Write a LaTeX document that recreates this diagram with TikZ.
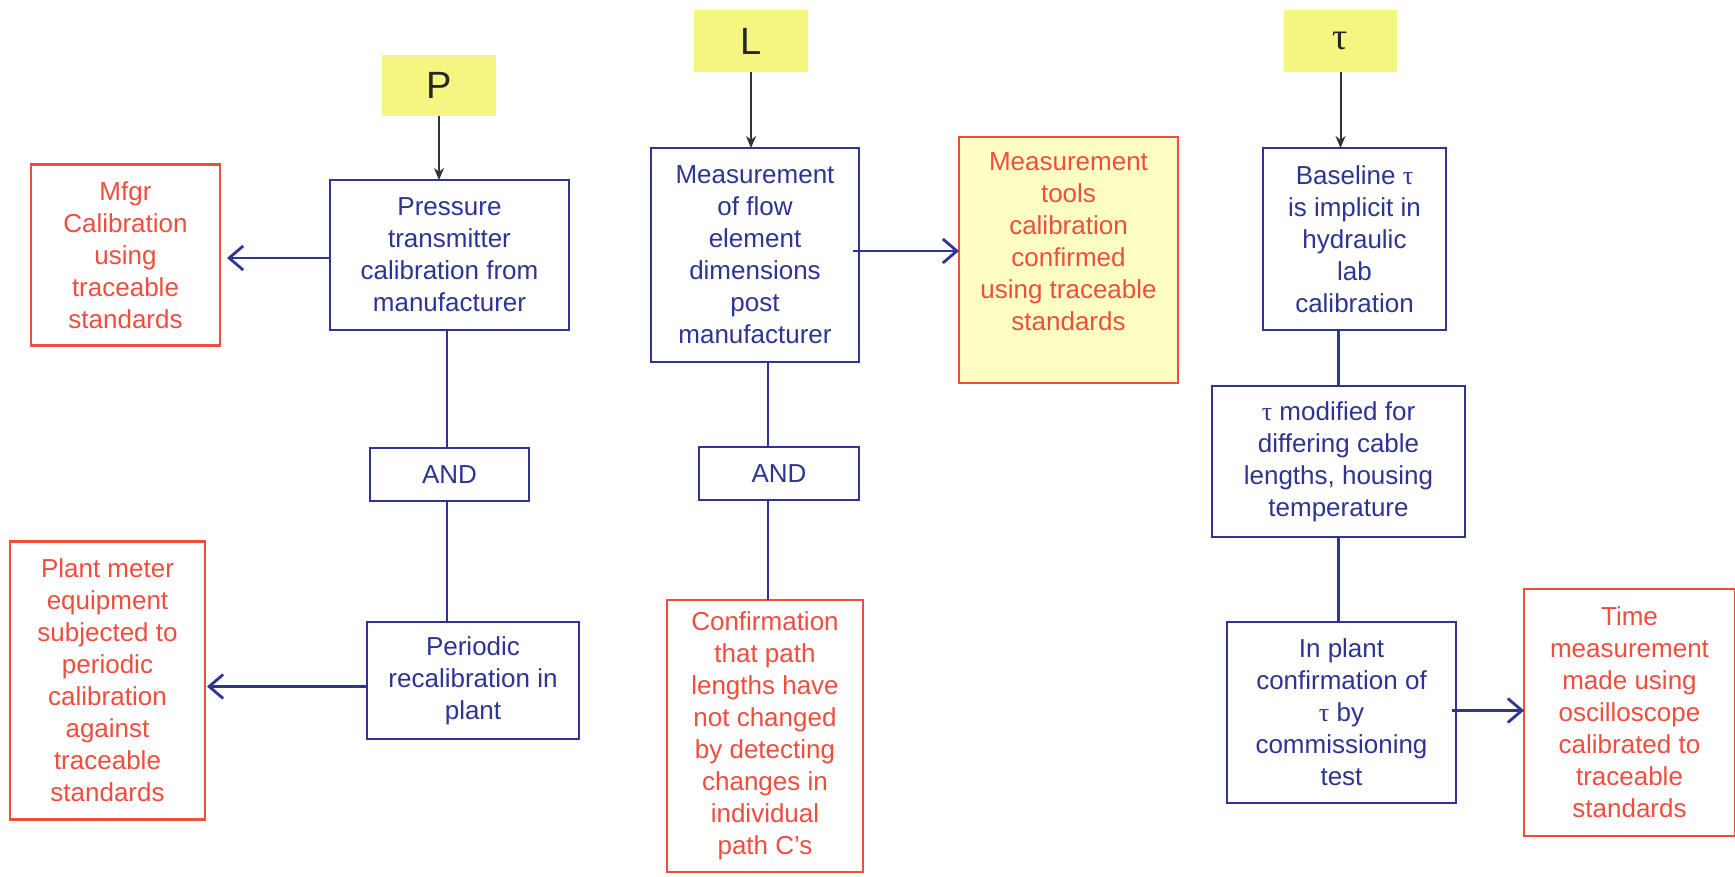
\documentclass[tikz,border=0pt]{standalone}
\usepackage{fontspec}
\setmainfont{Liberation Sans}
\newfontfamily\greekfont{Liberation Serif}
\usetikzlibrary{arrows.meta,positioning}
\definecolor{boxblue}{RGB}{46,52,148}
\definecolor{boxred}{RGB}{238,78,62}
\definecolor{tagyellow}{RGB}{245,245,130}
\definecolor{notefill}{RGB}{255,255,196}
\newcommand{\tauch}{{\greekfont τ}}

\begin{document}
\begin{tikzpicture}[node distance=40pt and 40pt, every node/.style={font=\fontsize{13}{16}\selectfont, align=center, inner sep=2pt, outer sep=0pt}]
\tikzset{stage/.style={draw=boxblue, line width=1.4pt, text=boxblue, fill=white}}
\tikzset{check/.style={draw=boxred, line width=1.4pt, text=boxred, fill=white}}
\tikzset{tag/.style={fill=tagyellow, text=black!85, font=\fontsize{19}{22}\selectfont}}
\tikzset{feed/.style={draw=black!80, line width=1pt, -{Stealth[length=6pt,width=5pt]}}}
\tikzset{link/.style={draw=boxblue, line width=1.4pt}}
\tikzset{refer/.style={link, -{Straight Barb[length=7pt,width=12pt]}}}
\useasboundingbox[fill=white] (0,0) rectangle (867.5pt,-438.5pt);
% pressure column
\node[stage, minimum width=119.5pt, minimum height=75pt] (pres) at (224.75pt,-127.5pt) {Pressure\\transmitter\\calibration from\\manufacturer};
\node[tag, above=32pt of pres, xshift=-5.25pt, minimum width=57pt, minimum height=30.5pt] (P) {P};
\node[stage, below=59pt of pres, minimum width=79.5pt, minimum height=26.5pt] (and1) {AND};
\node[stage, below=60.5pt of and1, xshift=11.75pt, minimum width=106pt, minimum height=58.5pt] (periodic) {Periodic\\recalibration in\\plant};
\node[check, left=55pt of pres, minimum width=94.5pt, minimum height=90.5pt] (mfgr) {Mfgr\\Calibration\\using\\traceable\\standards};
\node[check, left=81pt of periodic, minimum width=97.5pt, minimum height=139pt] (plant) {Plant meter\\equipment\\subjected to\\periodic\\calibration\\against\\traceable\\standards};
% length column
\node[stage, right=41pt of pres, minimum width=104pt, minimum height=107pt] (meas) {Measurement\\of flow\\element\\dimensions\\post\\manufacturer};
\node[tag, above=38pt of meas, xshift=-2pt, minimum width=57pt, minimum height=31pt] (L) {L};
\node[stage, below=42.5pt of meas, xshift=12pt, minimum width=80pt, minimum height=26.5pt] (and2) {AND};
\node[check, below=50pt of and2, xshift=-7pt, minimum width=98pt, minimum height=136pt] (conf) {Confirmation\\that path\\lengths have\\not changed\\by detecting\\changes in\\individual\\path C’s};
\node[check, right=50pt of meas, yshift=-2.5pt, fill=notefill, minimum width=109.5pt, minimum height=123pt] (tools) {Measurement\\tools\\calibration\\confirmed\\using traceable\\standards\\[2pt]};
% time column
\node[stage, right=42.5pt of tools, yshift=10.5pt, minimum width=91.5pt, minimum height=91pt] (base) {Baseline \tauch\\is implicit in\\hydraulic\\lab\\calibration};
\node[tag, above=38pt of base, xshift=-7pt, minimum width=56.5pt, minimum height=31pt] (tau) {\tauch};
\node[stage, below=28pt of base, xshift=-8pt, minimum width=126.5pt, minimum height=75.5pt] (taumod) {\tauch\ modified for\\differing cable\\lengths, housing\\temperature};
\node[stage, below=42.5pt of taumod, xshift=1.5pt, minimum width=114.5pt, minimum height=90.5pt] (inplant) {In plant\\confirmation of\\\tauch\ by\\commissioning\\test};
\node[check, right=34pt of inplant, minimum width=105.5pt, minimum height=123.5pt] (time) {Time\\measurement\\made using\\oscilloscope\\calibrated to\\traceable\\standards};
% connectors
\draw[feed] (P) -- (P |- pres.north);
\draw[feed] (L) -- (L |- meas.north);
\draw[feed] (tau) -- (tau |- base.north);
\draw[refer] ([yshift=-1.5pt]pres.west) -- ([xshift=3.5pt,yshift=-1.5pt]pres.west -| mfgr.east);
\draw[link] ([xshift=-1.25pt]pres.south) -- ([xshift=-1.25pt]and1.north);
\draw[link] ([xshift=-1.25pt]and1.south) -- ([xshift=-1.25pt]and1.south |- periodic.north);
\draw[refer] ([yshift=-3pt]periodic.west) -- ([xshift=1pt,yshift=-3pt]periodic.west -| plant.east);
\coordinate (lspine) at ([xshift=6.5pt]meas.south);
\draw[link] (lspine) -- (lspine |- and2.north);
\draw[link] (lspine |- and2.south) -- (lspine |- conf.north);
\draw[refer] ([xshift=-3pt,yshift=2pt]meas.east) -- ([yshift=2pt]meas.east -| tools.west);
\draw[link] (taumod.north |- base.south) -- (taumod.north);
\draw[link] (taumod.south) -- (taumod.south |- inplant.north);
\draw[refer] ([xshift=-2pt,yshift=1pt]inplant.east) -- ([yshift=1pt]inplant.east -| time.west);
\end{tikzpicture}
\end{document}
